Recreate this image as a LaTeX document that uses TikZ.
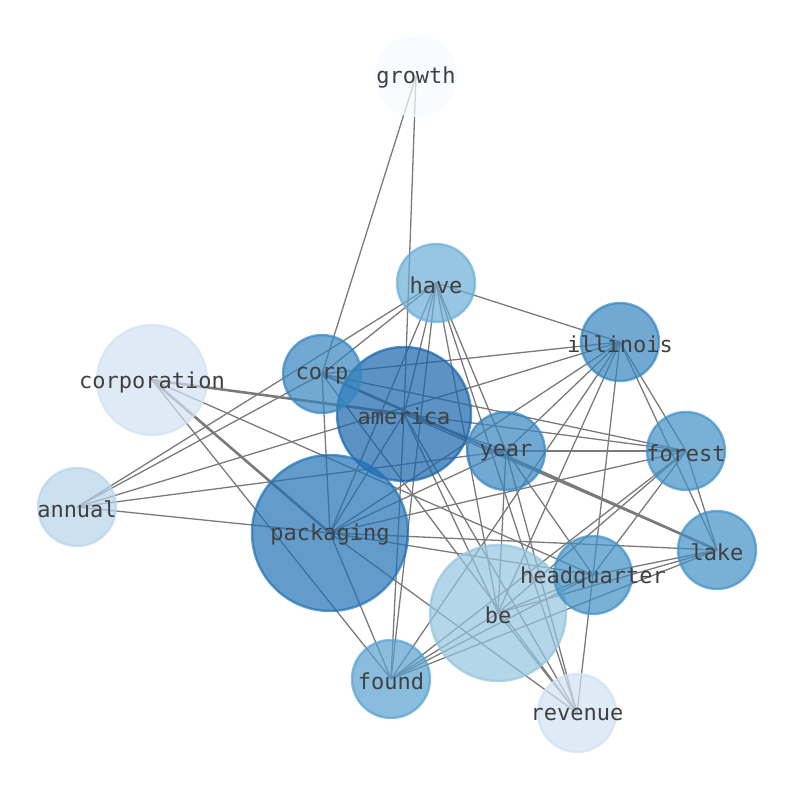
\documentclass[tikz,border=0pt]{standalone}
\usepackage{fontspec}
\setmonofont{DejaVu Sans Mono}
\usetikzlibrary{backgrounds}
\definecolor{bleuA}{HTML}{F7FBFF}
\definecolor{bleuB}{HTML}{D0E1F2}
\definecolor{bleuC}{HTML}{B7D4EA}
\definecolor{bleuD}{HTML}{94C4DF}
\definecolor{bleuE}{HTML}{6BAED6}
\definecolor{bleuF}{HTML}{58A1CF}
\definecolor{bleuG}{HTML}{4090C5}
\definecolor{bleuH}{HTML}{3585BF}
\definecolor{bleuI}{HTML}{2171B5}
\definecolor{bleuJ}{HTML}{1764AB}
\tikzset{trait/.style={draw=black!52, line width=0.65pt},
	epais/.style={trait, line width=1.3pt}}
\newcommand{\mot}[5]{\node[noeud, fill=#4, draw=#4, minimum size=#3pt,
	label={center:#5}] (#1) at (#2) {}}
\newcommand{\lien}[2]{\draw[trait] (#1.center) -- (#2.center)}
\newcommand{\lienepais}[2]{\draw[epais] (#1.center) -- (#2.center)}

\begin{document}
\begin{tikzpicture}[x=0.5pt, y=-0.5pt,
	noeud/.style={circle, inner sep=0pt, line width=1.2pt,
		fill opacity=0.7, draw opacity=0.7},
	every label/.style={font=\ttfamily\fontsize{11}{13}\selectfont,
		text=black!75, text opacity=1, yshift=-1pt}]
	\useasboundingbox (0,0) rectangle (794,790);
%The words
	\mot{gr}{416,76}{40}{bleuA}{growth};
	\mot{hv}{436,283}{39}{bleuE}{have};
	\mot{il}{620,342}{39}{bleuH}{illinois};
	\mot{co}{152,380}{55}{bleuB}{corporation};
	\mot{am}{404,414}{67}{bleuJ}{america};
	\mot{cp}{322,374}{39}{bleuH}{corp};
	\mot{yr}{506,451}{39}{bleuH}{year};
	\mot{fo}{686,451}{39}{bleuG}{forest};
	\mot{an}{77,507}{39}{bleuC}{annual};
	\mot{pk}{330,533}{78}{bleuI}{packaging};
	\mot{lk}{717,550}{39}{bleuG}{lake};
	\mot{be}{498,613}{68}{bleuD}{be};
	\mot{hq}{593,575}{39}{bleuG}{headquarter};
	\mot{fd}{391,679}{39}{bleuF}{found};
	\mot{rv}{577,713}{39}{bleuB}{revenue};
%The links
	\begin{pgfonlayer}{background}
	\lien{gr}{cp}; \lien{gr}{am};
	\lien{hv}{il}; \lien{hv}{an}; \lien{hv}{cp}; \lien{hv}{pk};
	\lien{hv}{am}; \lien{hv}{fd}; \lien{hv}{be}; \lien{hv}{rv};
	\lien{hv}{yr};
	\lien{il}{cp}; \lien{il}{an}; \lien{il}{pk}; \lien{il}{yr};
	\lien{il}{fd}; \lien{il}{be}; \lien{il}{rv}; \lien{il}{fo};
	\lien{il}{lk};
	\lienepais{cp}{lk}; \lien{cp}{pk}; \lien{cp}{fo}; \lien{cp}{an};
	\lien{cp}{rv};
	\lienepais{co}{am}; \lienepais{co}{pk}; \lien{co}{fd}; \lien{co}{hq};
	\lien{am}{fd}; \lien{am}{rv}; \lien{am}{fo}; \lien{am}{yr};
	\lien{am}{lk}; \lien{am}{be};
	\lien{yr}{fo}; \lien{yr}{be}; \lien{yr}{pk}; \lien{yr}{hq};
	\lien{yr}{rv}; \lien{yr}{an};
	\lien{fo}{fd}; \lien{fo}{be}; \lien{fo}{hq}; \lien{fo}{lk};
	\lien{fo}{pk};
	\lien{pk}{lk}; \lien{pk}{hq}; \lien{pk}{rv}; \lien{pk}{fd};
	\lien{pk}{an}; \lien{pk}{am};
	\lien{be}{hq}; \lien{be}{lk}; \lien{be}{fd}; \lien{be}{rv};
	\lien{hq}{lk}; \lien{hq}{fd};
	\lien{lk}{fd};
	\end{pgfonlayer}
\end{tikzpicture}
\end{document}
